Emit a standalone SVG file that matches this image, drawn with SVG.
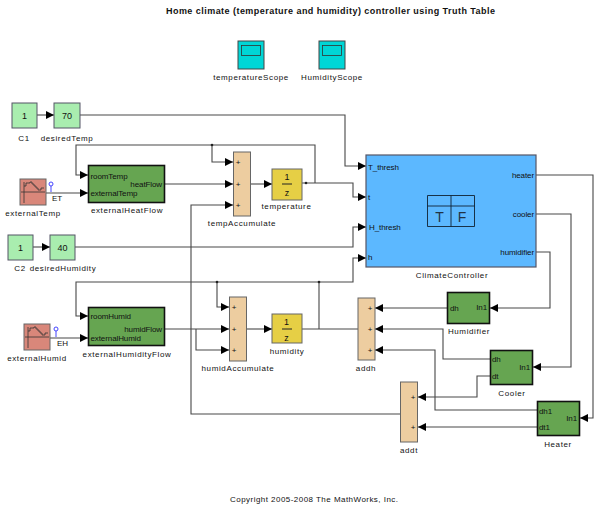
<svg xmlns="http://www.w3.org/2000/svg" width="600" height="511" viewBox="0 0 600 511">
<style>
text{font-family:"Liberation Sans",Arial,sans-serif;font-size:8px;fill:#111}
.l{text-anchor:middle;letter-spacing:.62px}
.p{letter-spacing:-.1px}
.e{text-anchor:end}
.c{text-anchor:middle}
.v{font-size:9px;text-anchor:middle}
.w{fill:none;stroke:#484848;stroke-width:1.1;marker-end:url(#a)}
.n{fill:none;stroke:#484848;stroke-width:1.1}
.k{fill:#A9EDAF;stroke:#556;stroke-width:1}
.g{fill:#66A551;stroke:#111;stroke-width:1.6}
.t{fill:#EDCDA0;stroke:#666;stroke-width:1}
.y{fill:#E6CF45;stroke:#666;stroke-width:1}
.s{fill:#D9877A;stroke:#666;stroke-width:1}
.o{fill:#00D6D6;stroke:#444;stroke-width:1}
.i{fill:none;stroke:#333;stroke-width:.8}
</style>
<defs>
<marker id="a" markerUnits="userSpaceOnUse" markerWidth="9" markerHeight="9" refX="8" refY="4" orient="auto"><path d="M0 0L8 4L0 8Z" fill="#000"/></marker>
</defs>
<rect width="600" height="511" fill="#fff"/>
<text x="330.5" y="14" text-anchor="middle" style="font-weight:bold;font-size:9px" textLength="329" lengthAdjust="spacing">Home climate (temperature and humidity) controller using Truth Table</text>
<text x="314" y="502" text-anchor="middle" textLength="168" lengthAdjust="spacing">Copyright 2005-2008 The MathWorks, Inc.</text>

<g id="connectors">
<path class="w" d="M37 115H54"/>
<path class="w" d="M80 115H345V166H366"/>
<path class="w" d="M33 247H50"/>
<path class="w" d="M75 247H353V227H366"/>
<path class="w" d="M302 183H353V197H366"/>
<path class="w" d="M315 183V145H76V175H88"/>
<path class="w" d="M212 145V162H233"/>
<path class="w" d="M165 184H233"/>
<path class="w" d="M46 193H88"/>
<path class="w" d="M251 184H272"/>
<path class="w" d="M400 414H191V205H233"/>
<path class="w" d="M319 329V282H76V316H88"/>
<path class="w" d="M319 282H353V258H366"/>
<path class="w" d="M217 282V307H229"/>
<path class="w" d="M165 329H229"/>
<path class="w" d="M196 329V350H229"/>
<path class="w" d="M247 329H272"/>
<path class="n" d="M302 329H358"/>
<path class="w" d="M50 338H88"/>
<path class="w" d="M536 252H550V308H490"/>
<path class="w" d="M536 214H571V367H533"/>
<path class="w" d="M536 175H593V418H580"/>
<path class="w" d="M447 308H375"/>
<path class="w" d="M490 359H443V329H375"/>
<path class="w" d="M490 376H477V397H418"/>
<path class="w" d="M537 410H435V350H375"/>
<path class="w" d="M537 427H418"/>
<circle cx="212" cy="145" r="1.3" fill="#222"/>
<circle cx="306" cy="183" r="1.3" fill="#222"/>
<circle cx="217" cy="282" r="1.3" fill="#222"/>
<circle cx="319" cy="282" r="1.3" fill="#222"/>
<circle cx="51" cy="184" r="2" fill="#fff" stroke="#44f"/>
<path d="M51 186V192" stroke="#44f"/>
<circle cx="56" cy="329" r="2" fill="#fff" stroke="#44f"/>
<path d="M56 331V337" stroke="#44f"/>
<text x="52" y="201">ET</text>
<text x="57" y="346">EH</text>
</g>

<g id="temperatureScope"><rect class="o" x="238" y="41" width="26" height="28"/><rect class="i" x="241.500" y="45.500" width="19" height="10"/><text class="l" x="251" y="80">temperatureScope</text></g>
<g id="HumidityScope"><rect class="o" x="319" y="41" width="26" height="28"/><rect class="i" x="322.500" y="45.500" width="19" height="10"/><text class="l" x="332" y="80">HumidityScope</text></g>

<g id="C1"><rect class="k" x="12" y="103" width="25" height="25"/><text class="v" x="24.500" y="119">1</text><text class="l" x="24" y="141">C1</text></g>
<g id="desiredTemp"><rect class="k" x="54" y="103" width="26" height="25"/><text class="v" x="67" y="119">70</text><text class="l" x="67" y="141">desiredTemp</text></g>
<g id="C2"><rect class="k" x="8" y="235" width="25" height="25"/><text class="v" x="20.500" y="251">1</text><text class="l" x="20" y="271">C2</text></g>
<g id="desiredHumidity"><rect class="k" x="50" y="235" width="25" height="25"/><text class="v" x="62.500" y="251">40</text><text class="l" x="63" y="271">desiredHumidity</text></g>

<g id="externalTemp"><rect class="s" x="20" y="179" width="26" height="26"/><path class="i" d="M24 182V203M21 192H45M24 186H26V183H30V182H32V184H34V186H36V188H38V190H41V188H44"/><text class="l" x="33" y="216">externalTemp</text></g>
<g id="externalHumid"><rect class="s" x="24" y="324" width="26" height="26"/><path class="i" d="M28 327V348M25 337H49M28 331H30V328H34V327H36V329H38V331H40V333H42V335H45V333H48"/><text class="l" x="37" y="361">externalHumid</text></g>

<g id="externalHeatFlow"><rect class="g" x="88.500" y="165.500" width="76" height="37"/><text class="p" x="90.500" y="179">roomTemp</text><text class="p" x="90.500" y="196">externalTemp</text><text class="p e" x="162" y="186.500">heatFlow</text><text class="l" x="127" y="213">externalHeatFlow</text></g>
<g id="externalHumidityFlow"><rect class="g" x="88.500" y="307.500" width="76" height="38"/><text class="p" x="90.500" y="319">roomHumid</text><text class="p" x="90.500" y="341">externalHumid</text><text class="p e" x="162" y="332">humidFlow</text><text class="l" x="127" y="357">externalHumidityFlow</text></g>

<g id="tempAccumulate"><rect class="t" x="233.500" y="152" width="17" height="64"/><text class="c" x="238" y="165">+</text><text class="c" x="238" y="187">+</text><text class="c" x="238" y="208">+</text><text class="l" x="242" y="226">tempAccumulate</text></g>
<g id="humidAccumulate"><rect class="t" x="229.500" y="297" width="17" height="64"/><text class="c" x="234" y="310">+</text><text class="c" x="234" y="332">+</text><text class="c" x="234" y="353">+</text><text class="l" x="238" y="371">humidAccumulate</text></g>
<g id="addh"><rect class="t" x="358" y="298" width="17" height="62"/><text class="c" x="370" y="311">+</text><text class="c" x="370" y="332">+</text><text class="c" x="370" y="353">+</text><text class="l" x="366" y="371">addh</text></g>
<g id="addt"><rect class="t" x="400.500" y="382" width="17" height="60"/><text class="c" x="413" y="400">+</text><text class="c" x="413" y="430">+</text><text class="l" x="409" y="453">addt</text></g>

<g id="temperature"><rect class="y" x="272" y="169" width="30" height="31"/><text class="v" x="287" y="180">1</text><path d="M282 184H292" stroke="#222"/><text class="v" x="287" y="196">z</text><text class="l" x="286.500" y="209">temperature</text></g>
<g id="humidity"><rect class="y" x="272" y="314" width="30" height="29"/><text class="v" x="286.500" y="325">1</text><path d="M282 329H292" stroke="#222"/><text class="v" x="286.500" y="341">z</text><text class="l" x="287" y="354">humidity</text></g>

<g id="ClimateController"><rect x="366" y="155" width="170" height="112" fill="#5CB8FF" stroke="#556" stroke-width="1.200"/><path d="M427.500 195.500H474.500V226.500H427.500ZM427.500 206H474.500M451 195.500V226.500" fill="none" stroke="#123" stroke-width=".9"/><text x="439.500" y="222" text-anchor="middle" style="font-size:14px;fill:#234">T</text><text x="462" y="222" text-anchor="middle" style="font-size:14px;fill:#234">F</text>
<text class="p" x="368" y="170">T_thresh</text><text class="p" x="368" y="200">t</text><text class="p" x="369" y="230">H_thresh</text><text class="p" x="368" y="260">h</text><text class="p e" x="534" y="178">heater</text><text class="p e" x="534" y="217">cooler</text><text class="p e" x="534" y="255">humidifier</text><text class="l" x="452" y="278">ClimateController</text></g>

<g id="Humidifier"><rect class="g" x="447.500" y="292.500" width="42" height="31"/><text class="p" x="450" y="311">dh</text><text class="p e" x="487" y="310">In1</text><text class="l" x="469" y="334">Humidifier</text></g>
<g id="Cooler"><rect class="g" x="490.500" y="350.500" width="42" height="34"/><text class="p" x="492" y="362">dh</text><text class="p" x="492" y="379">dt</text><text class="p e" x="530" y="370">In1</text><text class="l" x="512" y="396">Cooler</text></g>
<g id="Heater"><rect class="g" x="537.500" y="401.500" width="42" height="34"/><text class="p" x="539" y="414">dh1</text><text class="p" x="539" y="430">dt1</text><text class="p e" x="577" y="421">In1</text><text class="l" x="558" y="447">Heater</text></g>
</svg>
